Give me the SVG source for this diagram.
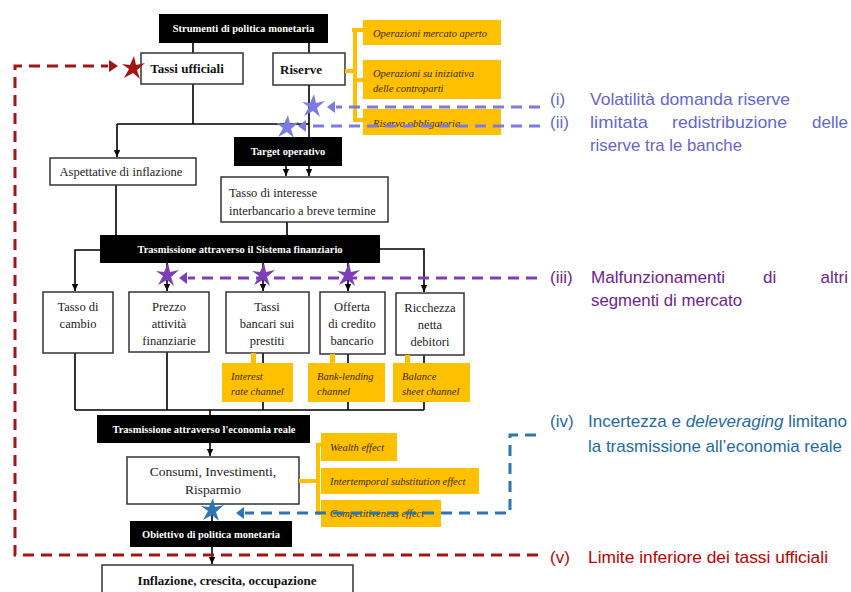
<svg xmlns="http://www.w3.org/2000/svg" xmlns:xlink="http://www.w3.org/1999/xlink" width="851" height="592" viewBox="0 0 851 592">
<style>
.bk{fill:#000}
.wb{fill:#fff;stroke:#333;stroke-width:1.5}
.ob{fill:#FFC000}
.bt{font-family:"Liberation Serif",serif;font-weight:bold;font-size:10.5px;fill:#fff;text-anchor:middle}
.nt{font-family:"Liberation Serif",serif;font-size:12.5px;fill:#222;text-anchor:middle}
.nb{font-family:"Liberation Serif",serif;font-weight:bold;font-size:13px;fill:#111;text-anchor:middle}
.ot{font-family:"Liberation Serif",serif;font-style:italic;font-size:10.5px;fill:#3a2a00}
.ln{fill:none;stroke:#000;stroke-width:1.6}
.ar{fill:none;stroke:#000;stroke-width:1.6;marker-end:url(#ah)}
.br{fill:none;stroke:#FFC000;stroke-width:4}
.d1{fill:none;stroke:#7b7be3;stroke-width:3;stroke-dasharray:11 7}
.d3{fill:none;stroke:#7d3fb8;stroke-width:3;stroke-dasharray:11 7}
.d4{fill:none;stroke:#2e75b6;stroke-width:3;stroke-dasharray:11 7}
.d5{fill:none;stroke:#a31515;stroke-width:3;stroke-dasharray:11 7}
.lg{font-family:"Liberation Sans","DejaVu Sans",sans-serif;font-size:17px}
.c1{fill:#6565cf}
.c3{fill:#6e2390}
.c4{fill:#1f6aa5}
.c5{fill:#c00000}
</style>
<defs>
<marker id="ah" markerWidth="8" markerHeight="8" refX="7" refY="4" orient="auto" markerUnits="userSpaceOnUse">
<path d="M0,0.8 L7,4 L0,7.2 Z" fill="#000"/>
</marker>
<path id="star" d="M1,-12 L3,-3 L12,-5 L4,2 L7,11 L0,5 L-9,10 L-4,1 L-11,-4 L-3,-3 Z"/>
</defs>

<g id="connectors">
<path class="ln" d="M193,43 V53 M309,43 V53"/>
<path class="ln" d="M193,84 V124 M117,124 H309 M309,85 V137"/>
<path class="ar" d="M117,124 V157"/>
<path class="ar" d="M286,166 V176"/>
<path class="ar" d="M309,166 V176"/>
<path class="ln" d="M116,185 V235 M287,222 V235"/>
<path class="ar" d="M100,250 H75 V291"/>
<path class="ar" d="M167,263 V291"/>
<path class="ar" d="M263,263 V291"/>
<path class="ar" d="M348,263 V291"/>
<path class="ar" d="M380,249 H424 V292"/>
<path class="ln" d="M75,353 V410 M167,352 V410 M263,353 V410 M348,354 V410 M424,355 V410 M75,410 H424 M210,410 V415"/>
<path class="ar" d="M210,443 V456"/>
<path class="ln" d="M212,504 V521"/>
<path class="ar" d="M212,547 V564"/>
</g>

<g id="n_strumenti"><rect class="bk" x="159" y="14" width="169" height="29"/><text class="bt" x="243.5" y="32">Strumenti di politica monetaria</text></g>
<g id="n_tassi"><rect class="wb" x="141" y="53" width="102" height="31"/><text class="nb" x="187" y="73">Tassi ufficiali</text></g>
<g id="n_riserve"><rect class="wb" x="273" y="53" width="72" height="32"/><text class="nb" x="301" y="74">Riserve</text></g>

<g id="n_operazioni">
<path class="br" d="M345,71 H355 M352,30 H363 M355,28 V122 M355,120 H363 M355,80 H363"/>
<rect class="ob" x="363" y="20" width="138" height="25"/>
<text class="ot" x="373" y="37">Operazioni mercato aperto</text>
<rect class="ob" x="363" y="60" width="138" height="39"/>
<text class="ot" x="373" y="77">Operazioni su iniziativa</text>
<text class="ot" x="373" y="92">delle controparti</text>
<rect class="ob" x="363" y="109" width="138" height="26"/>
<text class="ot" x="373" y="127">Riserva obbligatoria</text>
</g>

<g id="n_aspettative"><rect class="wb" x="50" y="158" width="146" height="27"/><text class="nt" x="121" y="176">Aspettative di inflazione</text></g>
<g id="n_target"><rect class="bk" x="234" y="137" width="108" height="29"/><text class="bt" x="288" y="155">Target operativo</text></g>
<g id="n_interbancario"><rect class="wb" x="221" y="177" width="167" height="45"/>
<text class="nt" x="229" y="197" style="text-anchor:start">Tasso di interesse</text>
<text class="nt" x="229" y="215" style="text-anchor:start">interbancario a breve termine</text></g>
<g id="n_sistema"><rect class="bk" x="100" y="235" width="280" height="28"/><text class="bt" x="240" y="253">Trasmissione attraverso il Sistema finanziario</text></g>

<g id="n_cambio"><rect class="wb" x="43" y="292" width="70" height="61"/><text class="nt" x="78" y="311">Tasso di</text><text class="nt" x="78" y="328">cambio</text></g>
<g id="n_prezzo"><rect class="wb" x="129" y="292" width="80" height="60"/><text class="nt" x="169" y="311">Prezzo</text><text class="nt" x="169" y="328">attività</text><text class="nt" x="169" y="345">finanziarie</text></g>
<g id="n_tassibancari"><rect class="wb" x="226" y="292" width="83" height="61"/><text class="nt" x="267" y="311">Tassi</text><text class="nt" x="267" y="328">bancari sui</text><text class="nt" x="267" y="345">prestiti</text></g>
<g id="n_offerta"><rect class="wb" x="320" y="292" width="65" height="62"/><text class="nt" x="352" y="311">Offerta</text><text class="nt" x="352" y="328">di credito</text><text class="nt" x="352" y="345">bancario</text></g>
<g id="n_ricchezza"><rect class="wb" x="396" y="293" width="68" height="62"/><text class="nt" x="430" y="312">Ricchezza</text><text class="nt" x="430" y="329">netta</text><text class="nt" x="430" y="346">debitori</text></g>

<g id="n_interest"><rect class="ob" x="251" y="353" width="5" height="10"/><rect class="ob" x="222" y="363" width="71" height="39"/><text class="ot" x="231" y="380">Interest</text><text class="ot" x="231" y="395">rate channel</text></g>
<g id="n_banklending"><rect class="ob" x="330" y="354" width="5" height="9"/><rect class="ob" x="308" y="363" width="77" height="39"/><text class="ot" x="317" y="380">Bank-lending</text><text class="ot" x="317" y="395">channel</text></g>
<g id="n_balance"><rect class="ob" x="405" y="355" width="5" height="8"/><rect class="ob" x="393" y="363" width="77" height="39"/><text class="ot" x="402" y="380">Balance</text><text class="ot" x="402" y="395">sheet channel</text></g>

<g id="n_economia"><rect class="bk" x="97" y="415" width="213" height="28"/><text class="bt" x="204" y="433">Trasmissione attraverso l'economia reale</text></g>
<g id="n_consumi"><rect class="wb" x="127" y="457" width="172" height="47"/><text class="nt" x="213" y="476" style="font-size:13.5px">Consumi, Investimenti,</text><text class="nt" x="213" y="494" style="font-size:13.5px">Risparmio</text></g>
<g id="n_effetti">
<path class="br" d="M299,481 H318 M318,443 V515 M318,445 H321 M318,513 H321"/>
<rect class="ob" x="321" y="433" width="76" height="28"/><text class="ot" x="330" y="451">Wealth effect</text>
<rect class="ob" x="321" y="468" width="158" height="26"/><text class="ot" x="330" y="485">Intertemporal substitution effect</text>
<rect class="ob" x="321" y="500" width="120" height="27"/><text class="ot" x="330" y="517">Competitiveness effect</text>
</g>
<g id="n_obiettivo"><rect class="bk" x="130" y="521" width="162" height="26"/><text class="bt" x="211" y="538">Obiettivo di politica monetaria</text></g>
<g id="n_inflazione"><rect class="wb" x="102" y="565" width="251" height="40"/><text class="nb" x="227" y="585">Inflazione, crescita, occupazione</text></g>

<g id="frizioni">
<path class="d1" d="M540,107 H336"/><path d="M327,107 L335,101 L335,113 Z" fill="#7b7be3"/>
<path class="d1" d="M540,126 H307"/><path d="M298,126 L306,120 L306,132 Z" fill="#7b7be3"/>
<use xlink:href="#star" href="#star" x="313" y="106" fill="#7b7be3"/>
<use xlink:href="#star" href="#star" x="287" y="127" fill="#7b7be3"/>

<path class="d3" d="M537,278 H188"/><path d="M179,278 L187,272 L187,284 Z" fill="#7d3fb8"/>
<use xlink:href="#star" href="#star" x="167" y="275" fill="#7d3fb8"/>
<use xlink:href="#star" href="#star" x="263" y="275" fill="#7d3fb8"/>
<use xlink:href="#star" href="#star" x="348" y="275" fill="#7d3fb8"/>

<path class="d4" d="M536,435 H510 V513 H245"/><path d="M236,513 L244,507 L244,519 Z" fill="#2e75b6"/>
<use xlink:href="#star" href="#star" x="212" y="510" fill="#2e75b6"/>

<path class="d5" d="M538,555 H15 V66 H108"/><path d="M118,66 L109,60 L109,72 Z" fill="#a31515"/>
<use xlink:href="#star" href="#star" x="133" y="68" fill="#a31515"/>
</g>

<g id="legenda">
<text class="lg c1" x="550" y="105">(i)</text>
<text class="lg c1" x="590" y="105" textLength="200" lengthAdjust="spacingAndGlyphs">Volatilità domanda riserve</text>
<text class="lg c1" x="550" y="128">(ii)</text>
<text class="lg c1" x="590" y="128" textLength="58" lengthAdjust="spacingAndGlyphs">limitata</text>
<text class="lg c1" x="672" y="128" textLength="115" lengthAdjust="spacingAndGlyphs">redistribuzione</text>
<text class="lg c1" x="848" y="128" text-anchor="end">delle</text>
<text class="lg c1" x="590" y="151" textLength="152" lengthAdjust="spacingAndGlyphs">riserve tra le banche</text>

<text class="lg c3" x="550" y="283">(iii)</text>
<text class="lg c3" x="591" y="283" textLength="134" lengthAdjust="spacingAndGlyphs">Malfunzionamenti</text>
<text class="lg c3" x="763" y="283">di</text>
<text class="lg c3" x="848" y="283" text-anchor="end">altri</text>
<text class="lg c3" x="591" y="306" textLength="151" lengthAdjust="spacingAndGlyphs">segmenti di mercato</text>

<text class="lg c4" x="550" y="427">(iv)</text>
<text class="lg c4" x="588" y="427" textLength="259" lengthAdjust="spacingAndGlyphs">Incertezza e <tspan font-style="italic">deleveraging</tspan> limitano</text>
<text class="lg c4" x="588" y="452" textLength="254" lengthAdjust="spacingAndGlyphs">la trasmissione all’economia reale</text>

<text class="lg c5" x="550" y="563">(v)</text>
<text class="lg c5" x="588" y="563" textLength="240" lengthAdjust="spacingAndGlyphs">Limite inferiore dei tassi ufficiali</text>
</g>
</svg>
